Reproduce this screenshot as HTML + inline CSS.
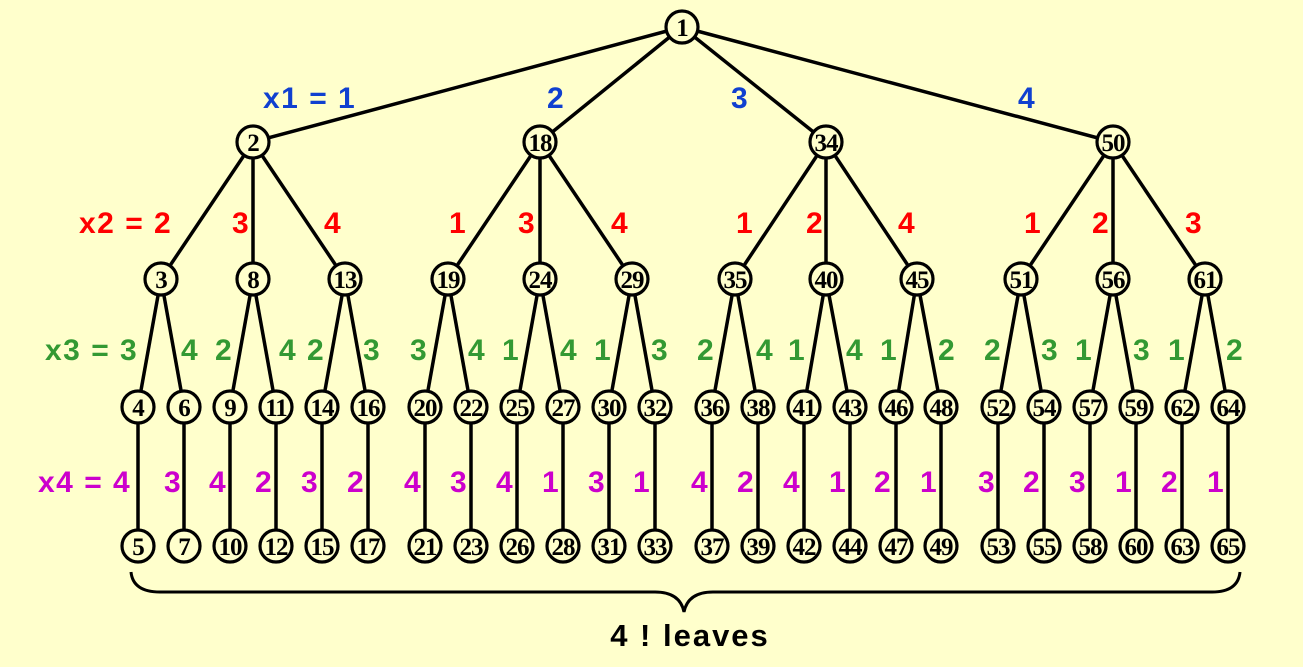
<!DOCTYPE html>
<html><head><meta charset="utf-8"><style>
html,body{margin:0;padding:0;background:#FFFFCC;}
svg{display:block}
.n circle{fill:#FFFFCC;stroke:#000;stroke-width:3.2}
.n text{font-family:"Liberation Serif",serif;font-weight:bold;font-size:25px;text-anchor:middle;fill:#000;letter-spacing:-1px}
.l{font-family:"Liberation Sans",sans-serif;font-weight:bold;font-size:30px;letter-spacing:1.5px}
.b{fill:#1040D0}.r{fill:#FF0000}.g{fill:#339933}.m{fill:#CC00CC}
line{stroke:#000;stroke-width:3.5}
</style></head><body>
<svg width="1303" height="667" viewBox="0 0 1303 667" xmlns="http://www.w3.org/2000/svg">
<rect width="1303" height="667" fill="#FFFFCC"/>
<g>
<line x1="682" y1="27" x2="253" y2="142"/><line x1="682" y1="27" x2="540" y2="142"/><line x1="682" y1="27" x2="826" y2="142"/><line x1="682" y1="27" x2="1113" y2="142"/>
<line x1="253" y1="142" x2="161" y2="279"/><line x1="253" y1="142" x2="253" y2="279"/><line x1="253" y1="142" x2="345" y2="279"/>
<line x1="540" y1="142" x2="448" y2="279"/><line x1="540" y1="142" x2="540" y2="279"/><line x1="540" y1="142" x2="632" y2="279"/>
<line x1="826" y1="142" x2="735" y2="279"/><line x1="826" y1="142" x2="826" y2="279"/><line x1="826" y1="142" x2="917" y2="279"/>
<line x1="1113" y1="142" x2="1021" y2="279"/><line x1="1113" y1="142" x2="1113" y2="279"/><line x1="1113" y1="142" x2="1205" y2="279"/>
<line x1="161" y1="279" x2="138" y2="407"/><line x1="161" y1="279" x2="184" y2="407"/>
<line x1="253" y1="279" x2="230" y2="407"/><line x1="253" y1="279" x2="276" y2="407"/>
<line x1="345" y1="279" x2="322" y2="407"/><line x1="345" y1="279" x2="368" y2="407"/>
<line x1="448" y1="279" x2="425" y2="407"/><line x1="448" y1="279" x2="471" y2="407"/>
<line x1="540" y1="279" x2="517" y2="407"/><line x1="540" y1="279" x2="563" y2="407"/>
<line x1="632" y1="279" x2="609" y2="407"/><line x1="632" y1="279" x2="655" y2="407"/>
<line x1="735" y1="279" x2="712" y2="407"/><line x1="735" y1="279" x2="758" y2="407"/>
<line x1="826" y1="279" x2="804" y2="407"/><line x1="826" y1="279" x2="850" y2="407"/>
<line x1="917" y1="279" x2="896" y2="407"/><line x1="917" y1="279" x2="941" y2="407"/>
<line x1="1021" y1="279" x2="998" y2="407"/><line x1="1021" y1="279" x2="1044" y2="407"/>
<line x1="1113" y1="279" x2="1090" y2="407"/><line x1="1113" y1="279" x2="1136" y2="407"/>
<line x1="1205" y1="279" x2="1182" y2="407"/><line x1="1205" y1="279" x2="1228" y2="407"/>
<line x1="138" y1="407" x2="138" y2="546"/><line x1="184" y1="407" x2="184" y2="546"/><line x1="230" y1="407" x2="230" y2="546"/><line x1="276" y1="407" x2="276" y2="546"/><line x1="322" y1="407" x2="322" y2="546"/><line x1="368" y1="407" x2="368" y2="546"/>
<line x1="425" y1="407" x2="425" y2="546"/><line x1="471" y1="407" x2="471" y2="546"/><line x1="517" y1="407" x2="517" y2="546"/><line x1="563" y1="407" x2="563" y2="546"/><line x1="609" y1="407" x2="609" y2="546"/><line x1="655" y1="407" x2="655" y2="546"/>
<line x1="712" y1="407" x2="712" y2="546"/><line x1="758" y1="407" x2="758" y2="546"/><line x1="804" y1="407" x2="804" y2="546"/><line x1="850" y1="407" x2="850" y2="546"/><line x1="896" y1="407" x2="896" y2="546"/><line x1="941" y1="407" x2="941" y2="546"/>
<line x1="998" y1="407" x2="998" y2="546"/><line x1="1044" y1="407" x2="1044" y2="546"/><line x1="1090" y1="407" x2="1090" y2="546"/><line x1="1136" y1="407" x2="1136" y2="546"/><line x1="1182" y1="407" x2="1182" y2="546"/><line x1="1228" y1="407" x2="1228" y2="546"/>
</g>
<g class="n">
<circle cx="682" cy="27" r="16"/><text x="682" y="36">1</text>
<circle cx="253" cy="142" r="16"/><text x="253" y="151">2</text>
<circle cx="540" cy="142" r="16"/><text x="540" y="151">18</text>
<circle cx="826" cy="142" r="16"/><text x="826" y="151">34</text>
<circle cx="1113" cy="142" r="16"/><text x="1113" y="151">50</text>
<circle cx="161" cy="279" r="16"/><text x="161" y="288">3</text>
<circle cx="253" cy="279" r="16"/><text x="253" y="288">8</text>
<circle cx="345" cy="279" r="16"/><text x="345" y="288">13</text>
<circle cx="448" cy="279" r="16"/><text x="448" y="288">19</text>
<circle cx="540" cy="279" r="16"/><text x="540" y="288">24</text>
<circle cx="632" cy="279" r="16"/><text x="632" y="288">29</text>
<circle cx="735" cy="279" r="16"/><text x="735" y="288">35</text>
<circle cx="826" cy="279" r="16"/><text x="826" y="288">40</text>
<circle cx="917" cy="279" r="16"/><text x="917" y="288">45</text>
<circle cx="1021" cy="279" r="16"/><text x="1021" y="288">51</text>
<circle cx="1113" cy="279" r="16"/><text x="1113" y="288">56</text>
<circle cx="1205" cy="279" r="16"/><text x="1205" y="288">61</text>
<circle cx="138" cy="407" r="16"/><text x="138" y="416">4</text>
<circle cx="184" cy="407" r="16"/><text x="184" y="416">6</text>
<circle cx="230" cy="407" r="16"/><text x="230" y="416">9</text>
<circle cx="276" cy="407" r="16"/><text x="276" y="416">11</text>
<circle cx="322" cy="407" r="16"/><text x="322" y="416">14</text>
<circle cx="368" cy="407" r="16"/><text x="368" y="416">16</text>
<circle cx="425" cy="407" r="16"/><text x="425" y="416">20</text>
<circle cx="471" cy="407" r="16"/><text x="471" y="416">22</text>
<circle cx="517" cy="407" r="16"/><text x="517" y="416">25</text>
<circle cx="563" cy="407" r="16"/><text x="563" y="416">27</text>
<circle cx="609" cy="407" r="16"/><text x="609" y="416">30</text>
<circle cx="655" cy="407" r="16"/><text x="655" y="416">32</text>
<circle cx="712" cy="407" r="16"/><text x="712" y="416">36</text>
<circle cx="758" cy="407" r="16"/><text x="758" y="416">38</text>
<circle cx="804" cy="407" r="16"/><text x="804" y="416">41</text>
<circle cx="850" cy="407" r="16"/><text x="850" y="416">43</text>
<circle cx="896" cy="407" r="16"/><text x="896" y="416">46</text>
<circle cx="941" cy="407" r="16"/><text x="941" y="416">48</text>
<circle cx="998" cy="407" r="16"/><text x="998" y="416">52</text>
<circle cx="1044" cy="407" r="16"/><text x="1044" y="416">54</text>
<circle cx="1090" cy="407" r="16"/><text x="1090" y="416">57</text>
<circle cx="1136" cy="407" r="16"/><text x="1136" y="416">59</text>
<circle cx="1182" cy="407" r="16"/><text x="1182" y="416">62</text>
<circle cx="1228" cy="407" r="16"/><text x="1228" y="416">64</text>
<circle cx="138" cy="546" r="16"/><text x="138" y="555">5</text>
<circle cx="184" cy="546" r="16"/><text x="184" y="555">7</text>
<circle cx="230" cy="546" r="16"/><text x="230" y="555">10</text>
<circle cx="276" cy="546" r="16"/><text x="276" y="555">12</text>
<circle cx="322" cy="546" r="16"/><text x="322" y="555">15</text>
<circle cx="368" cy="546" r="16"/><text x="368" y="555">17</text>
<circle cx="425" cy="546" r="16"/><text x="425" y="555">21</text>
<circle cx="471" cy="546" r="16"/><text x="471" y="555">23</text>
<circle cx="517" cy="546" r="16"/><text x="517" y="555">26</text>
<circle cx="563" cy="546" r="16"/><text x="563" y="555">28</text>
<circle cx="609" cy="546" r="16"/><text x="609" y="555">31</text>
<circle cx="655" cy="546" r="16"/><text x="655" y="555">33</text>
<circle cx="712" cy="546" r="16"/><text x="712" y="555">37</text>
<circle cx="758" cy="546" r="16"/><text x="758" y="555">39</text>
<circle cx="804" cy="546" r="16"/><text x="804" y="555">42</text>
<circle cx="850" cy="546" r="16"/><text x="850" y="555">44</text>
<circle cx="896" cy="546" r="16"/><text x="896" y="555">47</text>
<circle cx="941" cy="546" r="16"/><text x="941" y="555">49</text>
<circle cx="998" cy="546" r="16"/><text x="998" y="555">53</text>
<circle cx="1044" cy="546" r="16"/><text x="1044" y="555">55</text>
<circle cx="1090" cy="546" r="16"/><text x="1090" y="555">58</text>
<circle cx="1136" cy="546" r="16"/><text x="1136" y="555">60</text>
<circle cx="1182" cy="546" r="16"/><text x="1182" y="555">63</text>
<circle cx="1228" cy="546" r="16"/><text x="1228" y="555">65</text>
</g>
<g class="l">
<text class="b" x="263" y="108">x1 = 1</text>
<text class="b" x="547" y="108">2</text><text class="b" x="731" y="108">3</text><text class="b" x="1018" y="108">4</text>
<text class="r" x="79" y="233">x2 = 2</text>
<text class="r" x="232" y="233">3</text><text class="r" x="324" y="233">4</text><text class="r" x="449" y="233">1</text><text class="r" x="518" y="233">3</text><text class="r" x="611" y="233">4</text><text class="r" x="736" y="233">1</text><text class="r" x="806" y="233">2</text><text class="r" x="898" y="233">4</text><text class="r" x="1024" y="233">1</text><text class="r" x="1092" y="233">2</text><text class="r" x="1185" y="233">3</text>
<text class="g" x="45" y="360">x3 = 3</text>
<text class="g" x="181" y="360">4</text><text class="g" x="215" y="360">2</text><text class="g" x="279" y="360">4</text><text class="g" x="307" y="360">2</text><text class="g" x="363" y="360">3</text><text class="g" x="410" y="360">3</text><text class="g" x="468" y="360">4</text><text class="g" x="502" y="360">1</text><text class="g" x="560" y="360">4</text><text class="g" x="594" y="360">1</text><text class="g" x="651" y="360">3</text><text class="g" x="697" y="360">2</text><text class="g" x="756" y="360">4</text><text class="g" x="788" y="360">1</text><text class="g" x="846" y="360">4</text><text class="g" x="880" y="360">1</text><text class="g" x="938" y="360">2</text><text class="g" x="984" y="360">2</text><text class="g" x="1041" y="360">3</text><text class="g" x="1075" y="360">1</text><text class="g" x="1133" y="360">3</text><text class="g" x="1168" y="360">1</text><text class="g" x="1226" y="360">2</text>
<text class="m" x="38" y="492">x4 = 4</text>
<text class="m" x="164" y="492">3</text><text class="m" x="209" y="492">4</text><text class="m" x="255" y="492">2</text><text class="m" x="301" y="492">3</text><text class="m" x="347" y="492">2</text><text class="m" x="404" y="492">4</text><text class="m" x="450" y="492">3</text><text class="m" x="496" y="492">4</text><text class="m" x="542" y="492">1</text><text class="m" x="588" y="492">3</text><text class="m" x="633" y="492">1</text><text class="m" x="691" y="492">4</text><text class="m" x="737" y="492">2</text><text class="m" x="783" y="492">4</text><text class="m" x="829" y="492">1</text><text class="m" x="874" y="492">2</text><text class="m" x="920" y="492">1</text><text class="m" x="978" y="492">3</text><text class="m" x="1023" y="492">2</text><text class="m" x="1069" y="492">3</text><text class="m" x="1115" y="492">1</text><text class="m" x="1161" y="492">2</text><text class="m" x="1207" y="492">1</text>
</g>
<path d="M131 572 Q133 592 160 592 L655 592 Q680 592 684 612 Q688 592 713 592 L1212 592 Q1238 592 1240 572" fill="none" stroke="#000" stroke-width="3"/>
<text x="690" y="646" text-anchor="middle" style="font-family:'Liberation Sans',sans-serif;font-weight:bold;font-size:31px;letter-spacing:2px">4 ! leaves</text>
</svg>
</body></html>
